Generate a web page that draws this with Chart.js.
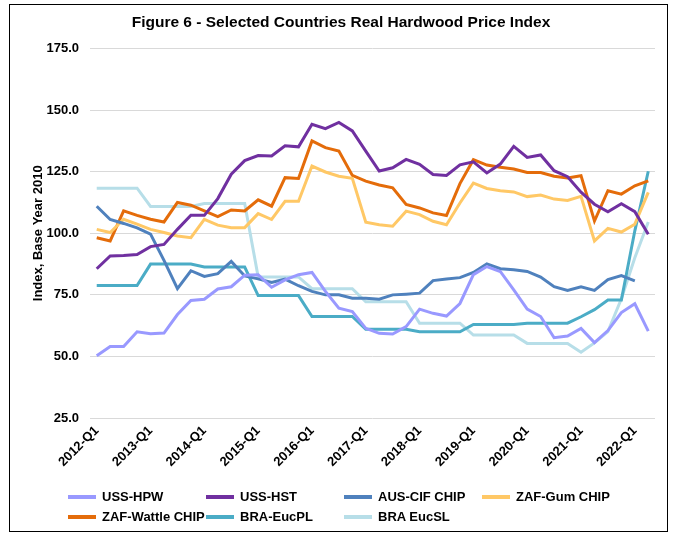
<!DOCTYPE html>
<html>
<head>
<meta charset="utf-8">
<script src="https://cdn.jsdelivr.net/npm/chart.js@4.4.1/dist/chart.umd.min.js"></script>
<style>
  body { margin: 0; background: #fff; }
  #wrap { position: relative; width: 676px; height: 533px; }
  #frame { position: absolute; left: 9px; top: 4px; width: 657px; height: 526px; border: 1px solid #000; pointer-events: none; }
  #legend { position: absolute; left: 0; top: 0; font: bold 13px "Liberation Sans", Arial, sans-serif; color: #000; }
  .item { position: absolute; height: 18px; line-height: 18px; white-space: nowrap; }
  .item .sw { position: absolute; left: 0; top: 7px; width: 28px; height: 4px; }
  .item .tx { position: absolute; left: 34px; top: 0; }
</style>
</head>
<body>
<div id="wrap">
  <canvas id="myChart" width="676" height="533"></canvas>
  <div id="legend"></div>
  <div id="frame"></div>
</div>
<script>
// quarters 2012-Q1 .. 2022-Q2
const quarters = [];
for (let y = 2012; y <= 2022; y++) {
  for (let q = 1; q <= 4; q++) {
    if (y === 2022 && q > 2) break;
    quarters.push(y + '-Q' + q);
  }
}

const ussHpw = [50.3, 54, 54, 60, 59.2, 59.5, 67, 72.7, 73.2, 77.4, 78.3, 83, 83.2, 78.1, 81.1, 83.2, 84.1, 76.4, 69.6, 68.2,
  61.4, 59.4, 59.1, 62.1, 69.2, 67.5, 66.4, 71.5, 83.2, 86.5, 84.5, 77, 69.2, 66.2, 57.6, 58.3, 61.4, 55.6, 60.5, 67.8, 71.4, 60.3];
const ussHst = [85.6, 90.8, 91, 91.4, 94.6, 95.5, 101.6, 107.3, 107.3, 114.1, 124, 129.5, 131.6, 131.4, 135.5, 135.1, 144.3, 142.5, 145, 141.6,
  133.4, 125.3, 126.6, 130, 128, 123.9, 123.5, 127.8, 129, 124.5, 128.1, 135.3, 130.8, 131.8, 125.4, 123, 116.7, 111.8, 108.7, 112, 108.8, 99.6];
const ausCif = [111, 105.6, 104, 102.2, 99.7, 89, 77.5, 84.8, 82.5, 83.6, 88.6, 82.7, 81.5, 80, 81.4, 78.7, 76.4, 75, 75, 73.6,
  73.6, 73.2, 75, 75.3, 75.7, 80.8, 81.4, 82, 84.1, 87.6, 85.6, 85.2, 84.5, 82.2, 78.3, 76.8, 78.3, 76.8, 81.2, 82.8, 80.7, null];
const zafGum = [101.6, 100.3, 105.7, 103.7, 101.6, 100.3, 98.9, 98.2, 105.7, 103.3, 102.3, 102.3, 108, 105.6, 113, 113, 127.3, 124.9, 123.2, 122.3,
  104.5, 103.5, 102.9, 109, 107.6, 104.9, 103.5, 112.3, 120.4, 118.2, 117.3, 116.8, 114.9, 115.5, 113.9, 113.3, 115, 96.9, 102, 100.5, 103.7, 116.6];
const zafWattle = [98.2, 96.9, 109.1, 107.3, 105.7, 104.6, 112.5, 111.4, 109.1, 106.8, 109.5, 109.1, 113.6, 111, 122.6, 122.3, 137.5, 134.8, 133.4, 123.5,
  121.2, 119.6, 118.5, 111.7, 110.3, 108.3, 107.2, 120.2, 129.9, 127.7, 126.8, 126.1, 124.7, 124.7, 123.2, 122.5, 123.4, 105, 117.3, 115.9, 119.3, 121.3];
const braEucPl = [78.8, 78.8, 78.8, 78.8, 87.5, 87.5, 87.5, 87.5, 86.3, 86.3, 86.3, 86.3, 74.7, 74.7, 74.7, 74.7, 66.2, 66.2, 66.2, 66.2,
  61, 61, 61, 61, 60, 60, 60, 60, 63, 63, 63, 63, 63.5, 63.5, 63.5, 63.5, 66.1, 69, 72.9, 72.9, 101, 125.2];
const braEucSl = [118.3, 118.3, 118.3, 118.3, 110.9, 110.9, 110.9, 110.9, 112.1, 112.1, 112.1, 112.1, 82.3, 82.3, 82.3, 82.3, 77.5, 77.5, 77.5, 77.5,
  72.2, 72.2, 72.2, 72.2, 63.5, 63.5, 63.5, 63.5, 58.7, 58.7, 58.7, 58.7, 55.3, 55.3, 55.3, 55.3, 51.7, 55.5, 60.1, 73.4, 90.1, 104.6];

const names = ['USS-HPW', 'USS-HST', 'AUS-CIF CHIP', 'ZAF-Gum CHIP', 'ZAF-Wattle CHIP', 'BRA-EucPL', 'BRA EucSL'];
const series = [ussHpw, ussHst, ausCif, zafGum, zafWattle, braEucPl, braEucSl];
const colors = ['#9999FF', '#7030A0', '#4F81BD', '#FFC866', '#E46C0A', '#4BACC6', '#B7DEE8'];

const FONT = '"Liberation Sans", Arial, sans-serif';

const chart = new Chart(document.getElementById('myChart'), {
  type: 'line',
  data: {
    labels: quarters,
    datasets: series.map((d, i) => ({
      label: names[i],
      data: d,
      borderColor: colors[i],
      backgroundColor: colors[i],
      borderWidth: 3,
      pointRadius: 0,
      tension: 0,
      fill: false
    }))
  },
  options: {
    responsive: false,
    animation: false,
    layout: { padding: { left: 27, right: 21, top: 0, bottom: 0 } },
    plugins: {
      legend: { display: false },
      tooltip: { enabled: false },
      title: {
        display: true,
        text: 'Figure 6 - Selected Countries Real Hardwood Price Index',
        color: '#000',
        font: { family: FONT, size: 15.5, weight: 'bold' },
        padding: { top: 13, bottom: 17 }
      }
    },
    scales: {
      x: {
        offset: true,
        grid: { display: false },
        border: { display: false },
        afterFit: (s) => { s.height = 115; },
        ticks: {
          autoSkip: false,
          maxRotation: 45,
          minRotation: 45,
          padding: -3,
          color: '#000',
          font: { family: FONT, size: 13, weight: 'bold' },
          callback: function (v, i) {
            const l = quarters[i];
            return l.endsWith('Q1') ? l : '';
          }
        }
      },
      y: {
        min: 25,
        max: 175,
        afterFit: (s) => { s.width = 63; },
        grid: { color: '#D9D9D9', lineWidth: 1, drawTicks: false },
        border: { display: false },
        ticks: {
          stepSize: 25,
          padding: 11,
          color: '#000',
          font: { family: FONT, size: 13, weight: 'bold' },
          callback: (v) => v.toFixed(1)
        },
        title: {
          display: true,
          text: 'Index, Base Year 2010',
          color: '#000',
          font: { family: FONT, size: 13, weight: 'bold' },
          padding: { top: 4, bottom: 0 }
        }
      }
    }
  }
});

// legend in four columns, like the original
const legendBox = document.getElementById('legend');
chart.data.datasets.forEach((ds, i) => {
  const col = i % 4, row = Math.floor(i / 4);
  const el = document.createElement('div');
  el.className = 'item';
  el.style.left = (68 + col * 138) + 'px';
  el.style.top = (488 + row * 20) + 'px';
  el.innerHTML = '<span class="sw" style="background:' + ds.borderColor + '"></span><span class="tx">' + ds.label + '</span>';
  legendBox.appendChild(el);
});
</script>
</body>
</html>
